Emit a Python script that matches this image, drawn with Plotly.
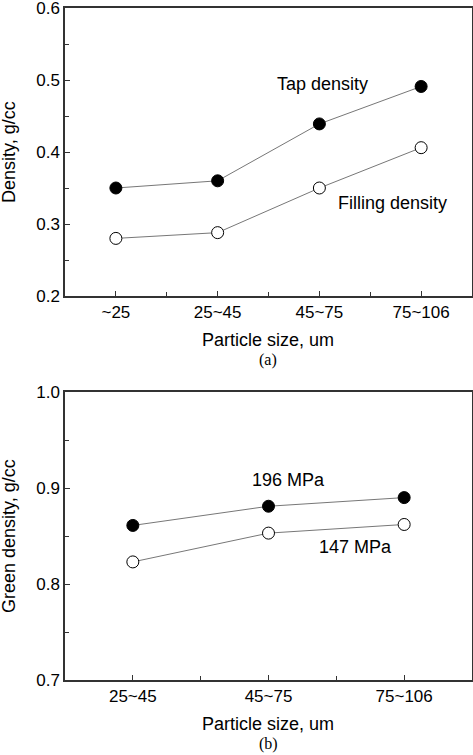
import plotly.graph_objects as go

# Panel (a)
sizes_a = ["~25", "25~45", "45~75", "75~106"]
tap_density = [0.350, 0.360, 0.439, 0.491]
filling_density = [0.280, 0.288, 0.350, 0.406]

# Panel (b)
sizes_b = ["25~45", "45~75", "75~106"]
green_196 = [0.861, 0.881, 0.890]
green_147 = [0.823, 0.853, 0.862]

yticks_a = [0.2, 0.3, 0.4, 0.5, 0.6]
yticks_b = [0.7, 0.8, 0.9, 1.0]

FONT = "Liberation Sans, Arial, sans-serif"
SERIF = "Liberation Serif, Times New Roman, serif"
AXC = "#333333"
LINEC = "#777777"

xa = list(range(len(sizes_a)))
xb = list(range(len(sizes_b)))

fig = go.Figure()

def add_series(x, y, filled, xaxis, yaxis):
    fig.add_trace(go.Scatter(
        x=x, y=y, mode="lines+markers", xaxis=xaxis, yaxis=yaxis,
        line=dict(color=LINEC, width=1),
        marker=dict(size=12, color="black" if filled else "white",
                    line=dict(color="black", width=1)),
        showlegend=False, cliponaxis=False))

add_series(xa, tap_density, True, "x", "y")
add_series(xa, filling_density, False, "x", "y")
add_series(xb, green_196, True, "x2", "y2")
add_series(xb, green_147, False, "x2", "y2")

axis_common = dict(showline=True, linecolor=AXC, linewidth=1.5, mirror=True,
                   ticks="inside", ticklen=5, tickcolor=AXC, tickwidth=1,
                   showgrid=False, zeroline=False, automargin=False,
                   ticklabeloverflow="allow",
                   tickfont=dict(family=FONT, size=17, color="black"))

fig.update_layout(
    width=473, height=755,
    margin=dict(l=0, r=0, t=0, b=0),
    paper_bgcolor="white", plot_bgcolor="white",
    xaxis=dict(domain=[65/473, 472/473], anchor="y", range=[-0.5, len(sizes_a) - 0.5],
               tickmode="array", tickvals=xa, ticktext=sizes_a,
               minor=dict(tickmode="array", tickvals=[i + 0.5 for i in xa[:-1]],
                          ticks="inside", ticklen=4, tickcolor=AXC),
               **axis_common),
    yaxis=dict(domain=[1 - 296/755, 1 - 8/755], anchor="x", range=[0.2, 0.6],
               tickmode="array", tickvals=yticks_a, ticktext=[f"{v:.1f}" for v in yticks_a],
               minor=dict(dtick=0.05, ticks="inside", ticklen=4, tickcolor=AXC),
               **axis_common),
    xaxis2=dict(domain=[65/473, 472/473], anchor="y2", range=[-0.5, len(sizes_b) - 0.5],
                tickmode="array", tickvals=xb, ticktext=sizes_b,
                minor=dict(tickmode="array", tickvals=[i + 0.5 for i in xb[:-1]],
                           ticks="inside", ticklen=4, tickcolor=AXC),
                **axis_common),
    yaxis2=dict(domain=[1 - 680/755, 1 - 392/755], anchor="x2", range=[0.7, 1.0],
                tickmode="array", tickvals=yticks_b, ticktext=[f"{v:.1f}" for v in yticks_b],
                minor=dict(dtick=0.05, ticks="inside", ticklen=4, tickcolor=AXC),
                **axis_common),
)

def ann(text, x, y, xref="paper", yref="paper", size=18, family=FONT, angle=0, yanchor="middle"):
    fig.add_annotation(text=text, x=x, y=y, xref=xref, yref=yref, showarrow=False,
                       font=dict(family=family, size=size, color="black"),
                       textangle=angle, xanchor="center", yanchor=yanchor, borderpad=0)

# series labels
ann("Tap density", 2.03, 0.494, "x", "y")
ann("Filling density", 2.72, 0.329, "x", "y")
ann("196 MPa", 1.144, 0.908, "x2", "y2")
ann("147 MPa", 1.64, 0.8385, "x2", "y2")

# axis titles
ann("Density, g/cc", 9/473, 1 - 152/755, angle=-90)
ann("Green density, g/cc", 9/473, 1 - 536/755, angle=-90)
ann("Particle size, um", 268/473, 1 - 351/755, yanchor="bottom")
ann("(a)", 268/473, 1 - 350/755, family=SERIF, size=16, yanchor="top")
ann("Particle size, um", 268/473, 1 - 735/755, yanchor="bottom")
ann("(b)", 268/473, 1 - 734/755, family=SERIF, size=16, yanchor="top")

fig.write_html("out.html", config={"displayModeBar": False},
               post_script="document.body.style.margin='0';document.body.style.overflow='hidden';")
